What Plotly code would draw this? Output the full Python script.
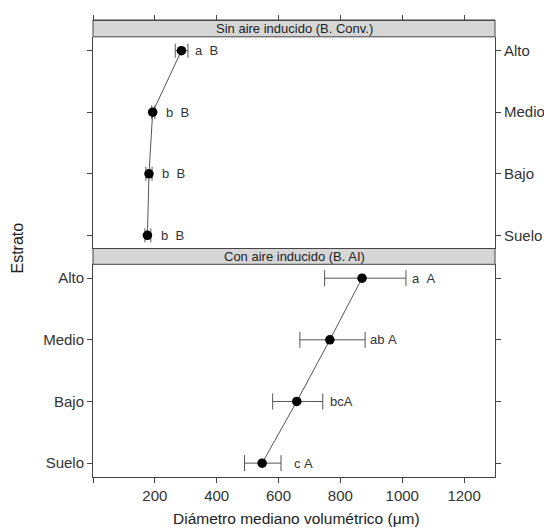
import plotly.graph_objects as go

# ---- data ----
estratos = ["Suelo", "Bajo", "Medio", "Alto"]

conv_mean = [176, 181, 193, 286]
conv_lo = [168, 171, 190, 266]
conv_hi = [187, 191, 200, 307]
conv_labels = ["b  B", "b  B", "b  B", "a  B"]

ai_mean = [547, 659, 766, 870]
ai_lo = [490, 581, 669, 749]
ai_hi = [608, 743, 880, 1012]
ai_labels = ["c A", "bcA", "ab A", "a  A"]

x_ticks = [0, 200, 400, 600, 800, 1000, 1200]
x_ticktext = ["", "200", "400", "600", "800", "1000", "1200"]

strip_top = "Sin aire inducido (B. Conv.)"
strip_bottom = "Con aire inducido (B. AI)"

# ---- style ----
FONT = "Liberation Sans, Arial, sans-serif"
AX = "#444444"
TXT = "#333333"
LINE = "#555555"

fig = go.Figure()


def add_panel(mean, lo, hi, xa, ya, cap):
    fig.add_trace(go.Scatter(
        x=mean, y=estratos, xaxis=xa, yaxis=ya, mode="lines+markers",
        line=dict(color=LINE, width=1),
        marker=dict(color="black", size=9.5),
        error_x=dict(type="data", symmetric=False,
                     array=[h - m for h, m in zip(hi, mean)],
                     arrayminus=[m - l for m, l in zip(mean, lo)],
                     color=LINE, thickness=1, width=cap),
        showlegend=False, hoverinfo="skip"))


add_panel(ai_mean, ai_lo, ai_hi, "x", "y", 8)
add_panel(conv_mean, conv_lo, conv_hi, "x2", "y2", 7)

annotations = []
conv_shift = [8, 8, 9, 5]
ai_shift = [11, 5, 3, 4]
for hi, lab, e, s in zip(conv_hi, conv_labels, estratos, conv_shift):
    annotations.append(dict(x=hi, y=e, xref="x2", yref="y2", text=lab.replace(" ", "\u00a0"),
                            showarrow=False, xanchor="left", yanchor="middle", xshift=s,
                            font=dict(family=FONT, size=13, color=TXT)))
for hi, lab, e, s in zip(ai_hi, ai_labels, estratos, ai_shift):
    annotations.append(dict(x=hi, y=e, xref="x", yref="y", text=lab.replace(" ", "\u00a0"),
                            showarrow=False, xanchor="left", yanchor="middle", xshift=s,
                            font=dict(family=FONT, size=13, color=TXT)))

# strips
B_PLOT_TOP = 0.4654
T_PLOT_BOT = 0.5
T_PLOT_TOP = 0.9632
shapes = [
    dict(type="rect", xref="paper", yref="paper", x0=0, x1=1, y0=B_PLOT_TOP, y1=T_PLOT_BOT,
         fillcolor="#d6d6d6", line=dict(color=AX, width=1), layer="below"),
    dict(type="rect", xref="paper", yref="paper", x0=0, x1=1, y0=T_PLOT_TOP, y1=1,
         fillcolor="#d6d6d6", line=dict(color=AX, width=1), layer="below"),
]
annotations += [
    dict(x=-0.189, y=0.5, xref="paper", yref="paper", text="Estrato", textangle=-90,
         xanchor="center", yanchor="middle",
         showarrow=False, font=dict(family=FONT, size=16, color="#222")),
    dict(x=0.5, y=(B_PLOT_TOP + T_PLOT_BOT) / 2, xref="paper", yref="paper", text=strip_bottom,
         xanchor="center", yanchor="middle",
         showarrow=False, font=dict(family=FONT, size=13, color="#222")),
    dict(x=0.5, y=(T_PLOT_TOP + 1) / 2, xref="paper", yref="paper", text=strip_top,
         xanchor="center", yanchor="middle",
         showarrow=False, font=dict(family=FONT, size=13, color="#222")),
    dict(x=0.505, y=-0.091, xref="paper", yref="paper", text="Diámetro mediano volumétrico (\u03bcm)",
         xanchor="center", yanchor="middle",
         showarrow=False, font=dict(family=FONT, size=15.5, color="#222")),
]

axis_common = dict(showgrid=False, zeroline=False, showline=True, linecolor=AX, linewidth=1,
                   ticks="outside", ticklen=5, tickcolor=AX,
                   tickfont=dict(family=FONT, size=15, color=TXT))

fig.update_layout(
    width=544, height=523,
    margin=dict(l=85, r=56, t=7, b=54),
    paper_bgcolor="white", plot_bgcolor="white",
    xaxis=dict(range=[0, 1300], tickvals=x_ticks, ticktext=x_ticktext,
               anchor="y", domain=[0, 1], **axis_common),
    xaxis2=dict(range=[0, 1300], matches="x", tickvals=x_ticks, showticklabels=False,
                anchor="free", position=1, side="top", domain=[0, 1], overlaying="x",
                **axis_common),
    yaxis=dict(type="category", categoryorder="array", categoryarray=estratos,
               range=[-0.225, 3.225], domain=[0, B_PLOT_TOP], anchor="x",
               mirror="ticks", side="left", **axis_common),
    yaxis2=dict(type="category", categoryorder="array", categoryarray=estratos,
                range=[-0.214, 3.225], domain=[T_PLOT_BOT, T_PLOT_TOP], anchor="x2",
                mirror="ticks", side="right", **axis_common),
    shapes=shapes, annotations=annotations,
)

fig.write_html("out.html")
